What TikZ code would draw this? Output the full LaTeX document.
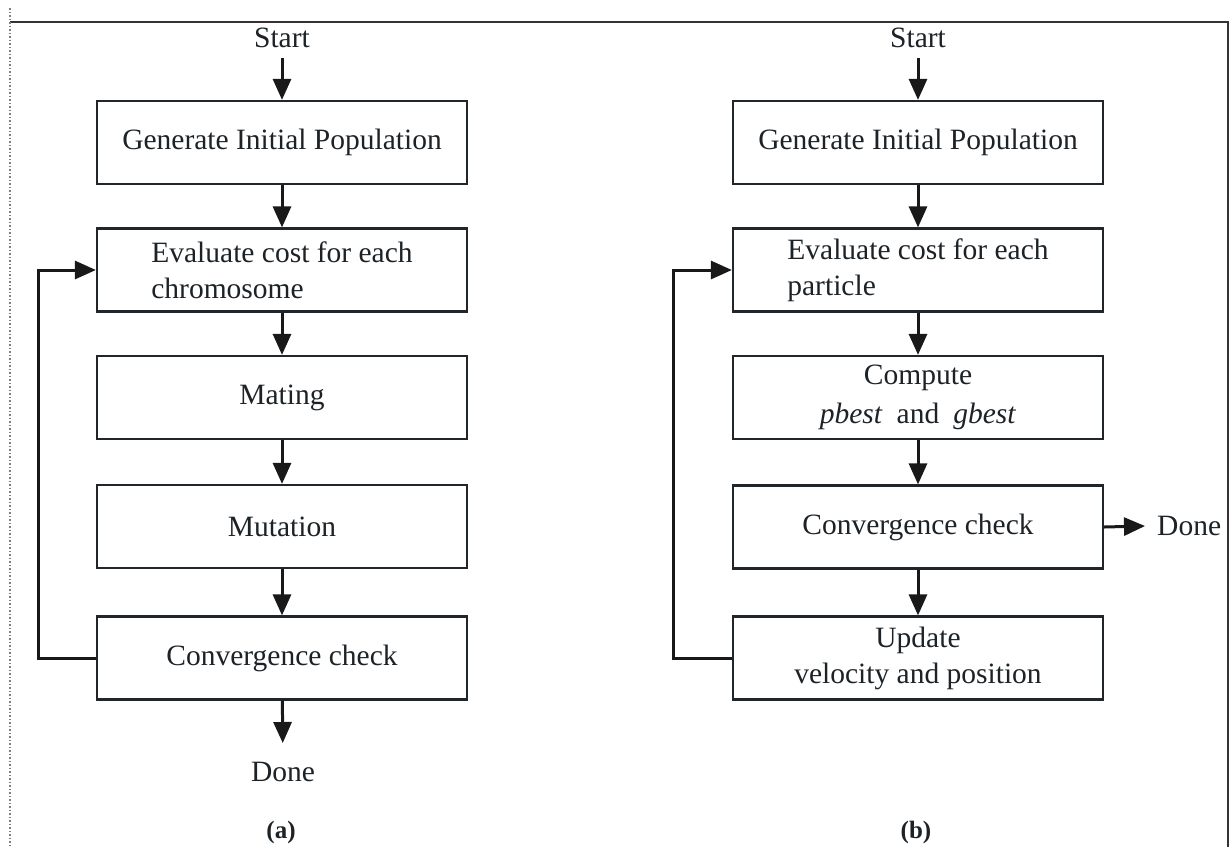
\documentclass[tikz,border=0pt]{standalone}
\usepackage{fontspec}
\setmainfont{Liberation Serif}
\usetikzlibrary{arrows.meta}
\definecolor{linec}{RGB}{32,38,42}
\definecolor{txtc}{RGB}{28,34,38}
\definecolor{arrc}{RGB}{25,25,25}
\definecolor{bordc}{RGB}{55,50,50}
\newcommand\boxfont{\fontsize{29.5}{36}\selectfont}
\begin{document}
\begin{tikzpicture}[x=1pt,y=-1pt,
  box/.style={draw=linec, line width=2.2pt, minimum width=370pt, minimum height=83pt, inner sep=0pt, font=\boxfont, text=txtc},
  arr/.style={draw=arrc, line width=3pt, -{Triangle[length=21pt,width=18pt]}},
  lbl/.style={font=\boxfont, text=txtc, inner sep=0pt},
  figcap/.style={font=\bfseries\fontsize{25}{30}\selectfont, text=txtc, inner sep=0pt}]
\useasboundingbox (0,0) rectangle (1230,847);
% frame
\draw[draw=bordc, line width=1.5pt] (10,22) -- (1228,22) -- (1228,847);
\draw[draw=gray, line width=1.5pt, dotted] (10,8) -- (10,847);
% left column (a)
\node[lbl] (as) at (282,38) {Start};
\node[box] (a1) at (282,142.5) {Generate Initial Population};
\node[box, align=left] (a2) at (282,270) {Evaluate cost for each\\chromosome};
\node[box] (a3) at (282,397.5) {Mating};
\node[box] (a4) at (282,526.5) {Mutation};
\node[box] (a5) at (282,658) {Convergence check};
\node[lbl] (ad) at (283,772) {Done};
\node[figcap] (acap) at (281,832) {(a)};
\draw[arr, shorten <=10pt] (as) -- (a1);
\draw[arr] (a1) -- (a2);
\draw[arr] (a2) -- (a3);
\draw[arr] (a3) -- (a4);
\draw[arr] (a4) -- (a5);
\draw[arr, shorten >=19pt] (a5) -- (ad);
\draw[arr] (a5.west) -- ++(-57,0) |- (a2.west);
% right column (b)
\node[lbl] (bs) at (918,38) {Start};
\node[box] (b1) at (918,142.5) {Generate Initial Population};
\node[box, align=left] (b2) at (918,270) {Evaluate cost for each\\particle};
\node[box, align=center] (b3) at (918,397.5) {Compute\\[3pt]\textit{pbest}\hspace{14pt}and\hspace{14pt}\textit{gbest}};
\node[box] (b4) at (918,527) {Convergence check};
\node[box, align=center] (b5) at (918,658) {Update\\velocity and position};
\node[lbl, anchor=west] (bd) at (1157,526) {Done};
\node[figcap] (bcap) at (916,832) {(b)};
\draw[arr, shorten <=10pt] (bs) -- (b1);
\draw[arr] (b1) -- (b2);
\draw[arr] (b2) -- (b3);
\draw[arr] (b3) -- (b4);
\draw[arr] (b4) -- (b5);
\draw[arr] (b4.east) -- ([xshift=-12pt]bd.west);
\draw[arr] (b5.west) -- ++(-58,0) |- (b2.west);
\end{tikzpicture}
\end{document}
